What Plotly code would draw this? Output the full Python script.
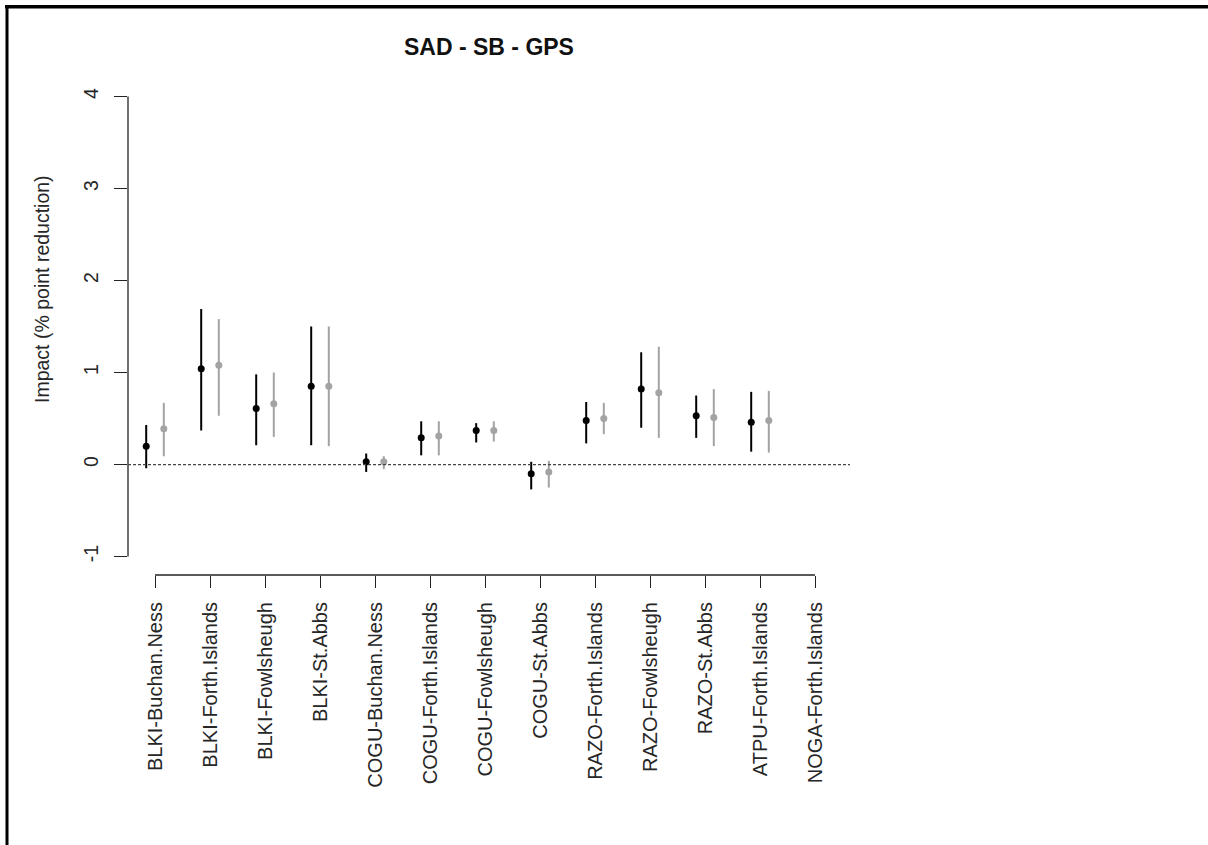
import plotly.graph_objects as go

# Colony / species combinations along the x axis
categories = [
    "BLKI-Buchan.Ness", "BLKI-Forth.Islands", "BLKI-Fowlsheugh", "BLKI-St.Abbs",
    "COGU-Buchan.Ness", "COGU-Forth.Islands", "COGU-Fowlsheugh", "COGU-St.Abbs",
    "RAZO-Forth.Islands", "RAZO-Fowlsheugh", "RAZO-St.Abbs", "ATPU-Forth.Islands",
    "NOGA-Forth.Islands",
]

# Series 1 (black): estimate with lower / upper interval bounds
black_mid = [0.20, 1.04, 0.61, 0.85, 0.03, 0.29, 0.37, -0.10, 0.48, 0.82, 0.53, 0.46, None]
black_lo = [-0.04, 0.37, 0.21, 0.21, -0.08, 0.10, 0.24, -0.27, 0.23, 0.40, 0.29, 0.14, None]
black_hi = [0.43, 1.69, 0.98, 1.50, 0.12, 0.47, 0.45, 0.03, 0.68, 1.22, 0.75, 0.79, None]

# Series 2 (grey): estimate with lower / upper interval bounds
grey_mid = [0.39, 1.08, 0.66, 0.85, 0.03, 0.31, 0.37, -0.08, 0.50, 0.78, 0.51, 0.48, None]
grey_lo = [0.09, 0.53, 0.30, 0.20, -0.05, 0.10, 0.25, -0.25, 0.33, 0.29, 0.20, 0.13, None]
grey_hi = [0.67, 1.58, 1.00, 1.50, 0.09, 0.47, 0.47, 0.04, 0.67, 1.28, 0.82, 0.80, None]

y_ticks = [-1, 0, 1, 2, 3, 4]

W, H = 1208, 845
ML, MR, MT, MB = 128, 358, 78, 270
PW, PH = W - ML - MR, H - MT - MB

OFFSET = 0.16
TEXT = "#262626"
FONT = "Liberation Sans, Arial, sans-serif"

xs = list(range(1, len(categories) + 1))
STEP = 55.0          # pixel spacing between categories
FIRST_PX = 155.0     # pixel position of the first category


def trace(mid, lo, hi, shift, color):
    pts = [(x + shift, m, h - m, m - l)
           for x, m, l, h in zip(xs, mid, lo, hi) if m is not None]
    return go.Scatter(
        x=[p[0] for p in pts], y=[p[1] for p in pts],
        mode="markers",
        marker=dict(color=color, size=7, line=dict(width=0)),
        error_y=dict(type="data", symmetric=False,
                     array=[p[2] for p in pts], arrayminus=[p[3] for p in pts],
                     width=0, thickness=2, color=color),
        showlegend=False, hoverinfo="skip",
    )


fig = go.Figure()
fig.add_trace(trace(black_mid, black_lo, black_hi, -OFFSET, "#000000"))
fig.add_trace(trace(grey_mid, grey_lo, grey_hi, OFFSET, "#a3a3a3"))

x_lo = 1 - (FIRST_PX - ML) / STEP
x_hi = 1 + (ML + PW - FIRST_PX) / STEP

fig.update_layout(
    width=W, height=H,
    margin=dict(l=ML, r=MR, t=MT, b=MB, pad=0),
    paper_bgcolor="white", plot_bgcolor="white",
    font=dict(family=FONT, color=TEXT, size=19),
    xaxis=dict(range=[x_lo, x_hi], tickmode="array", tickvals=xs, ticktext=categories,
               tickangle=-90, ticks="outside", ticklen=12, tickwidth=1, tickcolor="#222",
               showgrid=False, zeroline=False, showline=False,
               tickfont=dict(size=20), ticklabelstandoff=6),
    yaxis=dict(range=[-1.2, 4.2], tickmode="array", tickvals=y_ticks,
               ticktext=[str(v) for v in y_ticks],
               tickangle=-90, ticks="outside", ticklen=13, tickwidth=1, tickcolor="#222",
               showgrid=False, zeroline=False, showline=False,
               tickfont=dict(size=19.5), ticklabelstandoff=8),
)

# R-style axis lines spanning first to last tick
fig.add_shape(type="line", xref="paper", yref="y", x0=0, x1=0,
              y0=y_ticks[0], y1=y_ticks[-1], line=dict(color="#222", width=1.3))
fig.add_shape(type="line", xref="x", yref="paper", x0=xs[0], x1=xs[-1],
              y0=0, y1=0, line=dict(color="#222", width=1.3))

# Reference line at zero
fig.add_shape(type="line", xref="paper", yref="y", x0=0, x1=1, y0=0, y1=0,
              line=dict(color="#444", width=1.2, dash="3px,2px"))


def px_x(p):
    return (p - ML) / PW


def px_y(p):
    return 1 - (p - MT) / PH


# Outer frame (top and left edges)
fig.add_shape(type="rect", xref="paper", yref="paper",
              x0=px_x(5), x1=px_x(W + 2), y0=px_y(5), y1=px_y(8.5),
              line=dict(width=0), fillcolor="black")
fig.add_shape(type="rect", xref="paper", yref="paper",
              x0=px_x(5.5), x1=px_x(8.5), y0=px_y(5), y1=px_y(H + 2),
              line=dict(width=0), fillcolor="black")

fig.add_annotation(text="<b>SAD - SB - GPS</b>", xref="paper", yref="paper",
                   x=0.5, y=1, yshift=MT - 47, showarrow=False,
                   font=dict(size=23, color="#111"), xanchor="center", yanchor="middle")
fig.add_annotation(text="Impact (% point reduction)", xref="paper", yref="paper",
                   x=0, y=px_y(289), xshift=42 - ML, showarrow=False, textangle=-90,
                   font=dict(size=19.5, color=TEXT), xanchor="center", yanchor="middle")

fig.write_html("out.html")
